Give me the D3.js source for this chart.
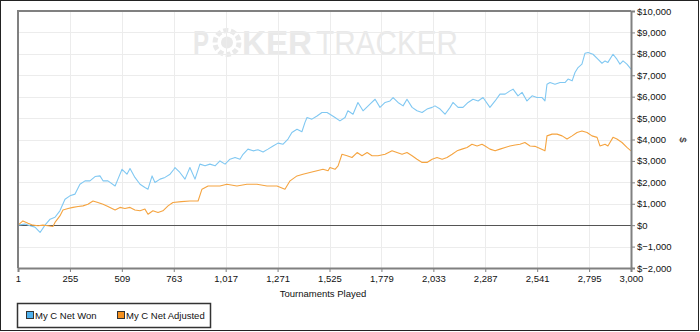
<!DOCTYPE html>
<html>
<head>
<meta charset="utf-8">
<script src="https://cdn.jsdelivr.net/npm/d3@7"></script>
<style>
  body { margin: 0; background: #fff; }
  svg { display: block; font-family: "Liberation Sans", Arial, sans-serif; }
</style>
</head>
<body>
<svg id="chart" width="700" height="332"></svg>
<script>
// tournament number, cumulative $
let netWon = [
  [1,0],[35,50],[60,-30],[84,-90],[109,-340],[133,0],[158,280],[182,370],[206,670],[231,1210],
  [255,1370],[280,1450],[304,1910],[329,2070],[353,2070],[378,2270],[402,2300],[417,2070],[441,2070],[476,1830],
  [490,2150],[510,2610],[534,2380],[549,2650],[573,2230],[598,1910],[622,1760],[637,1680],[657,2300],[671,1990],
  [696,2150],[720,2230],[745,2380],[764,2610],[769,2690],[793,2460],[818,2150],[842,2690],[867,2150],[891,2850],
  [916,2770],[940,2850],[965,2770],[989,3000],[1014,2850],[1038,3080],[1063,3160],[1087,3080],[1102,3310],[1126,3550],
  [1151,3470],[1175,3520],[1200,3420],[1224,3550],[1249,3700],[1273,3830],[1298,3780],[1322,4020],[1341,4330],[1366,4480],
  [1390,4360],[1405,4800],[1415,5030],[1439,4950],[1464,5100],[1488,5260],[1513,5260],[1527,5180],[1552,5030],[1576,4870],
  [1601,5030],[1615,5340],[1640,5180],[1664,5730],[1689,5340],[1723,5650],[1748,5880],[1772,5500],[1797,5730],[1821,5800],
  [1836,5960],[1860,5730],[1885,5570],[1904,5880],[1929,5500],[1953,5340],[1978,5260],[2002,5420],[2027,5500],[2041,5570],
  [2066,5420],[2090,5180],[2115,5500],[2129,5730],[2154,5500],[2178,5500],[2203,5730],[2227,5880],[2252,5800],[2276,5960],
  [2310,5500],[2335,5800],[2359,6120],[2384,6120],[2408,6270],[2423,6350],[2447,6040],[2467,6200],[2491,5800],[2516,6040],
  [2540,5960],[2565,5960],[2579,5800],[2589,6580],[2604,6660],[2628,6580],[2653,6660],[2677,6660],[2692,6820],[2712,6740],
  [2726,7130],[2741,7360],[2760,7520],[2775,8030],[2790,8060],[2814,7980],[2838,7750],[2858,7560],[2873,7670],[2887,7600],
  [2912,7980],[2931,7750],[2946,7520],[2961,7670],[2980,7520],[3000,7280]
];

let netAdjusted = [
  [1,0],[25,200],[50,90],[74,0],[99,-30],[123,0],[148,-30],[172,-60],[182,130],[206,430],
  [221,710],[246,780],[270,830],[295,870],[319,900],[343,980],[368,1130],[392,1060],[417,980],[441,870],
  [476,710],[500,830],[524,780],[549,830],[573,710],[598,670],[622,750],[637,510],[661,670],[686,590],
  [710,670],[735,900],[759,1060],[800,1100],[842,1130],[882,1130],[901,1680],[931,1830],[940,1830],[989,1830],
  [1023,1910],[1072,1830],[1121,1910],[1170,1910],[1219,1830],[1268,1830],[1307,1680],[1332,2070],[1366,2300],[1395,2380],
  [1429,2460],[1464,2540],[1493,2610],[1518,2540],[1527,2690],[1552,2610],[1567,2770],[1586,3310],[1611,3240],[1635,3160],
  [1660,3390],[1684,3240],[1709,3390],[1733,3240],[1762,3240],[1797,3310],[1831,3470],[1855,3390],[1880,3310],[1904,3390],
  [1929,3240],[1953,3080],[1978,2930],[2002,2930],[2027,3080],[2051,3160],[2076,3080],[2100,3160],[2125,3310],[2149,3470],
  [2173,3550],[2198,3630],[2222,3780],[2247,3700],[2271,3780],[2286,3700],[2310,3550],[2335,3470],[2359,3550],[2384,3630],
  [2408,3700],[2433,3740],[2457,3780],[2481,3860],[2506,3700],[2530,3680],[2555,3580],[2579,3470],[2589,4170],[2614,4250],
  [2638,4250],[2663,4170],[2687,4020],[2712,4170],[2736,4330],[2760,4400],[2785,4330],[2809,4170],[2834,4100],[2848,3700],
  [2873,3780],[2887,3700],[2912,4100],[2931,4020],[2956,3860],[2980,3630],[3000,3470]
];

let xTicks = [1, 255, 509, 763, 1017, 1271, 1525, 1779, 2033, 2287, 2541, 2795, 3000];
let yTicks = [-2000, -1000, 0, 1000, 2000, 3000, 4000, 5000, 6000, 7000, 8000, 9000, 10000];
let seriesNames = ['My C Net Won', 'My C Net Adjusted'];
let lineColors = ['#80c8f2', '#f5a440'];
let swatchColors = ['#4fb0ec', '#f5901e'];

let svg = d3.select('#chart');
let plotL = 18, plotR = 631, plotT = 11, plotB = 268;

let sx = d3.scaleLinear().domain([1, 3000]).range([plotL, plotR]);
let sy = d3.scaleLinear().domain([-2000, 10000]).range([plotB, plotT]);

// outer frame
svg.append('rect')
  .attr('x', 0.5).attr('y', 0.5)
  .attr('width', 698).attr('height', 330)
  .attr('fill', '#fff')
  .attr('stroke', '#222');

// watermark
let wm = svg.append('g').attr('fill', '#e9e9e9');
wm.append('text').attr('x', 193).attr('y', 55)
  .attr('font-size', 35).attr('font-weight', 'bold')
  .attr('textLength', 16).attr('lengthAdjust', 'spacingAndGlyphs')
  .text('P');
wm.append('circle').attr('cx', 227).attr('cy', 42.5).attr('r', 12)
  .attr('fill', 'none').attr('stroke', '#e9e9e9').attr('stroke-width', 5)
  .attr('stroke-dasharray', '5 2.5');
wm.append('circle').attr('cx', 227).attr('cy', 42.5).attr('r', 6);
wm.append('text').attr('x', 242).attr('y', 55)
  .attr('font-size', 35).attr('font-weight', 'bold')
  .attr('textLength', 70).attr('lengthAdjust', 'spacingAndGlyphs')
  .text('KER');
wm.append('text').attr('x', 316).attr('y', 55)
  .attr('font-size', 35)
  .attr('textLength', 142).attr('lengthAdjust', 'spacingAndGlyphs')
  .text('TRACKER');

// grid
svg.append('g').selectAll('line')
  .data(yTicks)
  .join('line')
  .attr('x1', plotL).attr('x2', plotR)
  .attr('y1', d => Math.round(sy(d)) + 0.5).attr('y2', d => Math.round(sy(d)) + 0.5)
  .attr('stroke', '#ececec');

svg.append('g').selectAll('line')
  .data(xTicks.slice(1, -1))
  .join('line')
  .attr('x1', d => Math.round(sx(d)) + 0.5).attr('x2', d => Math.round(sx(d)) + 0.5)
  .attr('y1', plotT).attr('y2', plotB)
  .attr('stroke', '#ececec');

// zero line
svg.append('line')
  .attr('x1', plotL).attr('x2', plotR)
  .attr('y1', Math.round(sy(0)) + 0.5).attr('y2', Math.round(sy(0)) + 0.5)
  .attr('stroke', '#555');

// series
svg.append('clipPath').attr('id', 'plotclip')
  .append('rect').attr('x', plotL).attr('y', plotT)
  .attr('width', plotR - plotL).attr('height', plotB - plotT);

let line = d3.line().x(d => sx(d[0])).y(d => sy(d[1]));
let lines = svg.append('g').attr('clip-path', 'url(#plotclip)');
[netWon, netAdjusted].forEach((s, i) => {
  lines.append('path')
    .datum(s)
    .attr('d', line)
    .attr('fill', 'none')
    .attr('stroke', lineColors[i])
    .attr('stroke-width', 1.1)
    .attr('stroke-linejoin', 'round');
});

// plot border (left / top)
svg.append('path')
  .attr('d', `M${plotL},${plotB}V${plotT}H${plotR}`)
  .attr('fill', 'none')
  .attr('stroke', '#808080')
  .attr('stroke-width', 2);

let styleAxis = g => {
  g.select('.domain').attr('stroke', '#808080').attr('stroke-width', 2);
  g.selectAll('.tick line').attr('stroke', '#808080');
  g.selectAll('text')
    .attr('fill', '#111')
    .style('font-size', '9.5px')
    .style('font-family', '"Liberation Sans", Arial, sans-serif');
};

// right axis
let yAxis = d3.axisRight(sy)
  .tickValues(yTicks)
  .tickSize(4)
  .tickPadding(2)
  .tickFormat(d => '$' + d3.format(',')(d));
svg.append('g')
  .attr('transform', `translate(${plotR},0)`)
  .call(yAxis)
  .call(styleAxis);

// bottom axis
let xAxis = d3.axisBottom(sx)
  .tickValues(xTicks)
  .tickSize(4)
  .tickPadding(3)
  .tickFormat(d3.format(','));
svg.append('g')
  .attr('transform', `translate(0,${plotB})`)
  .call(xAxis)
  .call(styleAxis);

// axis titles
svg.append('text')
  .attr('x', 323).attr('y', 297)
  .attr('text-anchor', 'middle')
  .attr('font-size', 9.5)
  .attr('fill', '#111')
  .text('Tournaments Played');

svg.append('text')
  .attr('transform', 'translate(680,140) rotate(90)')
  .attr('text-anchor', 'middle')
  .attr('font-size', 9.5)
  .attr('fill', '#111')
  .text('$');

// legend
let legend = svg.append('g');
legend.append('rect')
  .attr('x', 17.5).attr('y', 303.5)
  .attr('width', 193).attr('height', 24)
  .attr('fill', '#fff')
  .attr('stroke', '#333')
  .attr('stroke-width', 1.5);

let legendX = [26, 117];
seriesNames.forEach((name, i) => {
  legend.append('rect')
    .attr('x', legendX[i] + 0.5).attr('y', 311.5)
    .attr('width', 7).attr('height', 7)
    .attr('fill', swatchColors[i])
    .attr('stroke', '#333');
  legend.append('text')
    .attr('x', legendX[i] + 9).attr('y', 318.5)
    .attr('font-size', 9.5)
    .attr('fill', '#111')
    .text(name);
});
</script>
</body>
</html>
